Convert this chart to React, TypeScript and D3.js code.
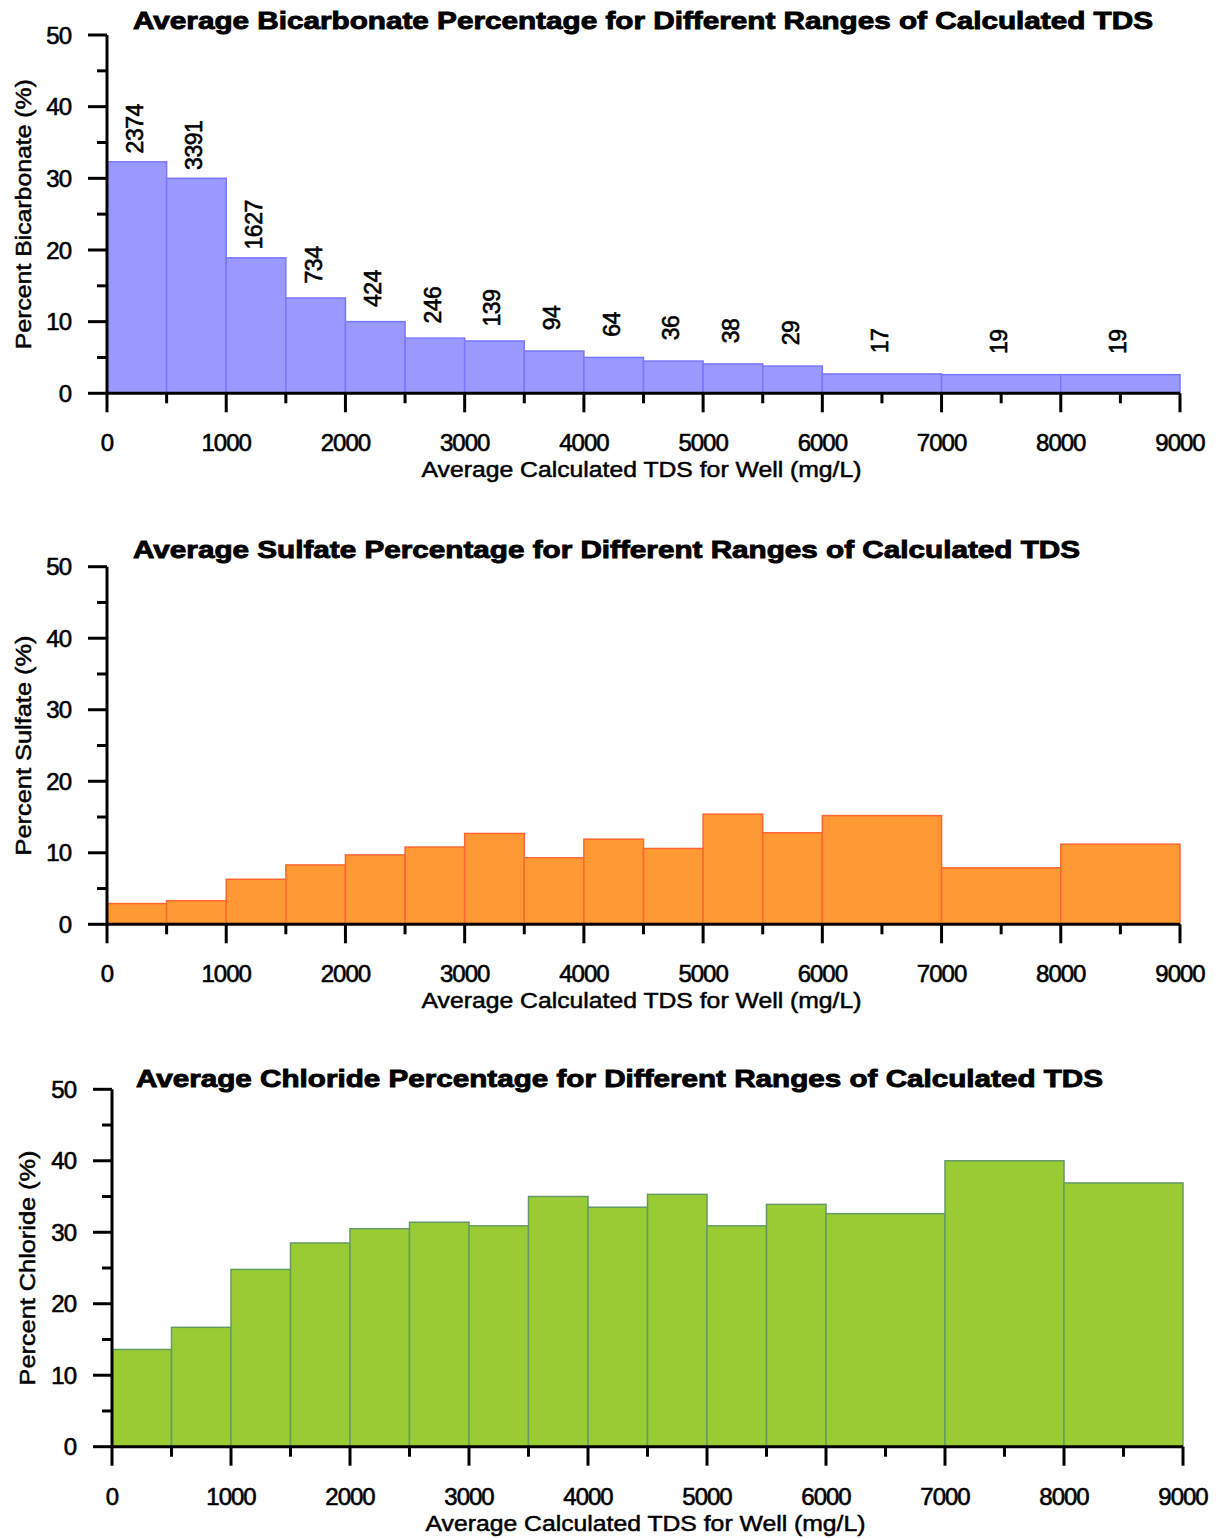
import React from "react";
import * as d3 from "d3";

// ---- Data ----
const binStarts = [0, 500, 1000, 1500, 2000, 2500, 3000, 3500, 4000, 4500, 5000, 5500, 6000, 7000, 8000];
const binEnds = [500, 1000, 1500, 2000, 2500, 3000, 3500, 4000, 4500, 5000, 5500, 6000, 7000, 8000, 9000];

const bicarbonate = [32.3, 30.0, 18.9, 13.3, 10.0, 7.7, 7.3, 5.9, 5.0, 4.5, 4.1, 3.8, 2.7, 2.6, 2.6];
const wellCounts = [2374, 3391, 1627, 734, 424, 246, 139, 94, 64, 36, 38, 29, 17, 19, 19];
const sulfate = [2.9, 3.3, 6.3, 8.3, 9.7, 10.8, 12.7, 9.3, 11.9, 10.6, 15.4, 12.8, 15.2, 7.9, 11.2];
const chloride = [13.6, 16.7, 24.8, 28.5, 30.5, 31.4, 30.9, 35.0, 33.5, 35.3, 30.9, 33.9, 32.6, 40.0, 36.9];

const xMajorTicks = [0, 1000, 2000, 3000, 4000, 5000, 6000, 7000, 8000, 9000];
const xMinorTicks = [500, 1500, 2500, 3500, 4500, 5500, 6500, 7500, 8500];
const yMajorTicks = [0, 10, 20, 30, 40, 50];
const yMinorTicks = [5, 15, 25, 35, 45];

const xTitle = "Average Calculated TDS for Well (mg/L)";

const FONT = "'Liberation Sans', Arial, Helvetica, sans-serif";

type PanelProps = {
  values: number[];
  counts?: number[];
  title: string;
  titleX: number;
  titleLen: number;
  titleY: number;
  yTitle: string;
  yTitleX: number;
  yTitleLen: number;
  x0: number;
  x1: number;
  yBottom: number;
  yTop: number;
  fill: string;
  stroke: string;
};

function Panel(p: PanelProps) {
  const x = d3.scaleLinear().domain([0, 9000]).range([p.x0, p.x1]);
  const y = d3.scaleLinear().domain([0, 50]).range([p.yBottom, p.yTop]);
  const yMid = (p.yBottom + p.yTop) / 2;
  const xMid = (p.x0 + p.x1) / 2;
  return (
    <g fontFamily={FONT}>
      <text
        x={p.titleX}
        y={p.titleY}
        fontSize={24}
        fontWeight={700}
        textLength={p.titleLen}
        lengthAdjust="spacingAndGlyphs"
        fill="#000"
        stroke="#000"
        strokeWidth={0.9}
      >
        {p.title}
      </text>
      {/* bars */}
      {p.values.map((v, i) => (
        <rect
          key={i}
          x={x(binStarts[i])}
          y={y(v)}
          width={x(binEnds[i]) - x(binStarts[i])}
          height={y(0) - y(v)}
          fill={p.fill}
          stroke={p.stroke}
          strokeWidth={1.5}
        />
      ))}
      {/* count labels */}
      {p.counts &&
        p.counts.map((c, i) => {
          const cx = x((binStarts[i] + binEnds[i]) / 2) + 6;
          const cy = y(p.values[i]) - 33;
          return (
            <text
              key={"c" + i}
              transform={`translate(${cx},${cy}) rotate(-90)`}
              textAnchor="middle"
              fontSize={23}
              fill="#000"
              stroke="#000"
              strokeWidth={0.6}
              letterSpacing={-0.5}
            >
              {c}
            </text>
          );
        })}
      {/* y axis */}
      <line x1={p.x0} x2={p.x0} y1={p.yBottom} y2={p.yTop} stroke="#000" strokeWidth={3} />
      {yMajorTicks.map((t) => (
        <g key={"ym" + t}>
          <line x1={p.x0 - 19} x2={p.x0} y1={y(t)} y2={y(t)} stroke="#000" strokeWidth={3} />
          <text
            x={p.x0 - 36}
            y={y(t)}
            dy="0.36em"
            textAnchor="end"
            fontSize={24}
            fill="#000"
            stroke="#000"
            strokeWidth={0.6}
            letterSpacing={-1}
          >
            {t}
          </text>
        </g>
      ))}
      {yMinorTicks.map((t) => (
        <line key={"yn" + t} x1={p.x0 - 10} x2={p.x0} y1={y(t)} y2={y(t)} stroke="#000" strokeWidth={3} />
      ))}
      {/* x axis */}
      <line x1={p.x0} x2={p.x1} y1={p.yBottom} y2={p.yBottom} stroke="#000" strokeWidth={3} />
      {xMajorTicks.map((t) => (
        <g key={"xm" + t}>
          <line x1={x(t)} x2={x(t)} y1={p.yBottom} y2={p.yBottom + 19} stroke="#000" strokeWidth={3} />
          <text
            x={x(t)}
            y={p.yBottom + 58}
            textAnchor="middle"
            fontSize={24}
            fill="#000"
            stroke="#000"
            strokeWidth={0.6}
            letterSpacing={-1}
          >
            {t}
          </text>
        </g>
      ))}
      {xMinorTicks.map((t) => (
        <line key={"xn" + t} x1={x(t)} x2={x(t)} y1={p.yBottom} y2={p.yBottom + 10} stroke="#000" strokeWidth={3} />
      ))}
      <text
        x={xMid - 2}
        y={p.yBottom + 84}
        textAnchor="middle"
        fontSize={22}
        fill="#000"
        stroke="#000"
        strokeWidth={0.5}
        textLength={440}
        lengthAdjust="spacingAndGlyphs"
      >
        {xTitle}
      </text>
      <text
        transform={`translate(${p.yTitleX},${yMid}) rotate(-90)`}
        textAnchor="middle"
        fontSize={22}
        fill="#000"
        stroke="#000"
        strokeWidth={0.5}
        textLength={p.yTitleLen}
        lengthAdjust="spacingAndGlyphs"
      >
        {p.yTitle}
      </text>
    </g>
  );
}

export default function App() {
  return (
    <svg
      width={1217}
      height={1538}
      style={{ position: "absolute", left: 0, top: 0, background: "#fff" }}
    >
      <rect x={0} y={0} width={1217} height={1538} fill="#fff" />
      <Panel
        values={bicarbonate}
        counts={wellCounts}
        title="Average Bicarbonate Percentage for Different Ranges of Calculated TDS"
        titleX={133}
        titleLen={1020}
        titleY={29}
        yTitle="Percent Bicarbonate (%)"
        yTitleX={31}
        yTitleLen={270}
        x0={107}
        x1={1180}
        yBottom={393.3}
        yTop={35}
        fill="#9999FF"
        stroke="#7777FF"
      />
      <Panel
        values={sulfate}
        title="Average Sulfate Percentage for Different Ranges of Calculated TDS"
        titleX={133}
        titleLen={947}
        titleY={558}
        yTitle="Percent Sulfate (%)"
        yTitleX={31}
        yTitleLen={220}
        x0={107}
        x1={1180}
        yBottom={924.3}
        yTop={566.7}
        fill="#FF9933"
        stroke="#FF6633"
      />
      <Panel
        values={chloride}
        title="Average Chloride Percentage for Different Ranges of Calculated TDS"
        titleX={136}
        titleLen={967}
        titleY={1087}
        yTitle="Percent Chloride (%)"
        yTitleX={35}
        yTitleLen={235}
        x0={112}
        x1={1183}
        yBottom={1446.7}
        yTop={1089.3}
        fill="#99CC33"
        stroke="#669966"
      />
    </svg>
  );
}
